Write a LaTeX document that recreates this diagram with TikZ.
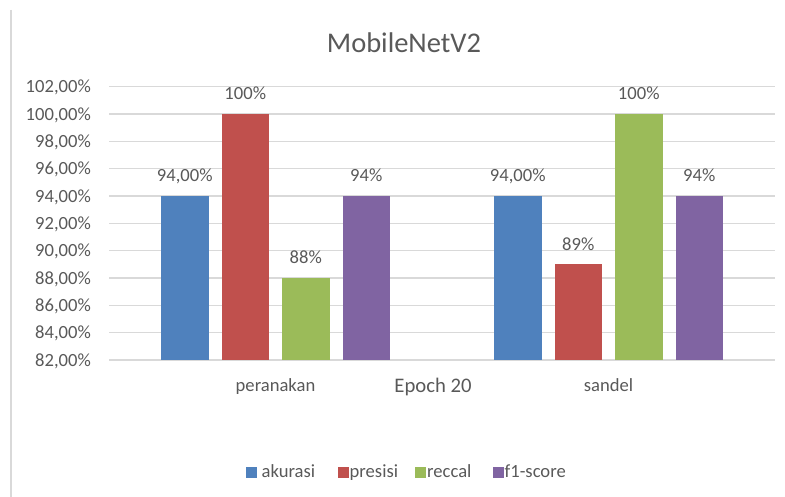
\documentclass[tikz,border=0pt]{standalone}
\usepackage{fontspec}
\setmainfont{Carlito}
\definecolor{txt}{HTML}{595959}
\definecolor{grid}{HTML}{D9D9D9}
\definecolor{cblue}{HTML}{4F81BD}
\definecolor{cred}{HTML}{C0504D}
\definecolor{cgreen}{HTML}{9BBB59}
\definecolor{cpurple}{HTML}{8064A2}
\tikzset{
  ticklab/.style={anchor=base east, text=txt, inner sep=0pt, font=\fontsize{18.6}{20}\selectfont},
  datalab/.style={anchor=base, text=txt, inner sep=0pt, font=\fontsize{18.6}{20}\selectfont},
  catlab/.style={anchor=base, text=txt, inner sep=0pt, font=\fontsize{18.6}{20}\selectfont},
  leglab/.style={anchor=base west, text=txt, inner sep=0pt, font=\fontsize{18.6}{20}\selectfont},
  gridline/.style={draw=grid, line width=1.2pt},
}
\begin{document}
\begin{tikzpicture}[x=1pt,y=-1pt]
\useasboundingbox (0,0) rectangle (785,497);
% left border
\draw[grid, line width=2pt] (11,10) -- (11,497);
% title
\node[anchor=base, text=txt, inner sep=0pt, font=\fontsize{28.5}{30}\selectfont] (title) at (404,53) {MobileNetV2};
% gridlines and tick labels
\foreach \v [count=\i from 0] in {82,84,86,88,90,92,94,96,98,100,102} {
  \pgfmathsetmacro{\yy}{360-\i*27.333}
  \draw[gridline] (109,\yy) -- (775,\yy);
  \node[ticklab] (tick\v) at (91,\yy+6.2) {\v,00\%};
}
% bars: y(v) = 360 - (v-82)*13.6667
\newcommand{\barw}{23.75}
\foreach \c/\n in {275.5/p, 608.5/s} {
}
% peranakan
\fill[cblue]   (184.75-\barw,360) rectangle (184.75+\barw,196);
\fill[cred]    (245.25-\barw,360) rectangle (245.25+\barw,114);
\fill[cgreen]  (305.75-\barw,360) rectangle (305.75+\barw,278);
\fill[cpurple] (366.25-\barw,360) rectangle (366.25+\barw,196);
% sandel
\fill[cblue]   (517.75-\barw,360) rectangle (517.75+\barw,196);
\fill[cred]    (578.25-\barw,360) rectangle (578.25+\barw,264.3);
\fill[cgreen]  (638.75-\barw,360) rectangle (638.75+\barw,114);
\fill[cpurple] (699.25-\barw,360) rectangle (699.25+\barw,196);
% data labels
\node[datalab] (d1) at (184.75,182) {94,00\%};
\node[datalab] (d2) at (245.25,100) {100\%};
\node[datalab] (d3) at (305.75,264) {88\%};
\node[datalab] (d4) at (366.25,182) {94\%};
\node[datalab] (d5) at (517.75,182) {94,00\%};
\node[datalab] (d6) at (578.25,250.3) {89\%};
\node[datalab] (d7) at (638.75,100) {100\%};
\node[datalab] (d8) at (699.25,182) {94\%};
% category labels
\node[catlab] (c1) at (275.5,391) {peranakan};
\node[catlab] (c2) at (608.5,391) {sandel};
\node[anchor=base, text=txt, inner sep=0pt, font=\fontsize{20.7}{22}\selectfont] (axt) at (433,392) {Epoch 20};
% legend
\fill[cblue]   (246,467) rectangle (256.5,477.5);
\node[leglab] (l1) at (261.5,477) {akurasi};
\fill[cred]    (338,467) rectangle (348.5,477.5);
\node[leglab] (l2) at (349.5,477) {presisi};
\fill[cgreen]  (415,467) rectangle (425.5,477.5);
\node[leglab] (l3) at (427,477) {reccal};
\fill[cpurple] (493,467) rectangle (503.5,477.5);
\node[leglab] (l4) at (504.5,477) {f1-score};
\end{tikzpicture}
\end{document}
